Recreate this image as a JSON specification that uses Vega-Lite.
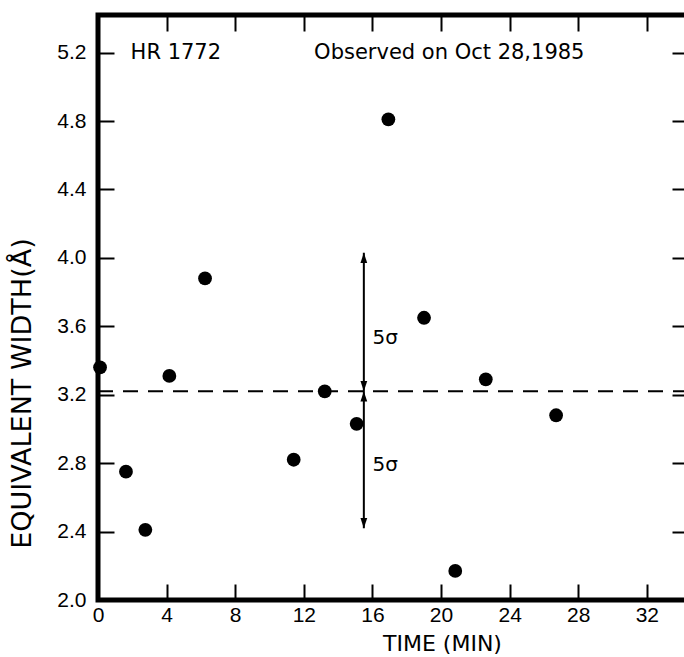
{
  "$schema": "https://vega.github.io/schema/vega-lite/v6.json",
  "width": 590,
  "height": 585,
  "autosize": "none",
  "padding": {"left": 98, "top": 15, "right": 0, "bottom": 57},
  "background": "white",
  "config": {
    "view": {"stroke": "black", "strokeWidth": 5},
    "axis": {
      "grid": false,
      "domain": false,
      "labelFlush": false,
      "tickColor": "black",
      "tickWidth": 2,
      "tickSize": -16,
      "labelColor": "black",
      "labelFont": "Liberation Sans",
      "labelFontSize": 21,
      "titleColor": "black",
      "titleFont": "DejaVu Sans",
      "titleFontSize": 22,
      "titleFontWeight": "normal"
    }
  },
  "datasets": {
    "obs": [
      {"t": 0.12, "v": 3.36},
      {"t": 1.63, "v": 2.75},
      {"t": 2.76, "v": 2.41},
      {"t": 4.16, "v": 3.31},
      {"t": 6.24, "v": 3.88},
      {"t": 11.41, "v": 2.82},
      {"t": 13.22, "v": 3.22},
      {"t": 15.08, "v": 3.03},
      {"t": 16.93, "v": 4.81},
      {"t": 19.01, "v": 3.65},
      {"t": 20.83, "v": 2.17},
      {"t": 22.61, "v": 3.29},
      {"t": 26.71, "v": 3.08}
    ],
    "mean": [{"v": 3.22}],
    "sigma": [{"t": 15.5, "lo": 2.42, "hi": 4.03}],
    "heads": [
      {"t": 15.5, "v": 4.03, "dir": "up"},
      {"t": 15.5, "v": 3.22, "dir": "down"},
      {"t": 15.5, "v": 3.22, "dir": "up"},
      {"t": 15.5, "v": 2.42, "dir": "down"}
    ],
    "notes": [
      {"t": 1.9, "v": 5.2, "label": "HR 1772"},
      {"t": 12.6, "v": 5.2, "label": "Observed on Oct 28,1985"}
    ],
    "sig": [
      {"t": 16.0, "v": 3.53, "label": "5σ"},
      {"t": 16.0, "v": 2.79, "label": "5σ"}
    ]
  },
  "resolve": {"axis": {"x": "independent", "y": "independent"}},
  "layer": [
    {
      "data": {"name": "obs"},
      "mark": {"type": "circle", "size": 190, "color": "black", "opacity": 1},
      "encoding": {
        "x": {
          "field": "t", "type": "quantitative",
          "scale": {"domain": [0, 34.4], "nice": false, "zero": false},
          "axis": {
            "orient": "bottom",
            "values": [0, 4, 8, 12, 16, 20, 24, 28, 32],
            "labelPadding": 20,
            "title": "TIME (MIN)",
            "titleX": 344,
            "titleY": 43,
            "titleAlign": "center",
            "titleBaseline": "middle"
          }
        },
        "y": {
          "field": "v", "type": "quantitative",
          "scale": {"domain": [2.0, 5.42], "nice": false, "zero": false},
          "axis": {
            "orient": "left",
            "values": [2.0, 2.4, 2.8, 3.2, 3.6, 4.0, 4.4, 4.8, 5.2],
            "format": ".1f",
            "labelPadding": 28,
            "title": "EQUIVALENT WIDTH(Å)",
            "titleFontSize": 27,
            "titleX": -76,
            "titleY": 378,
            "titleAlign": "center",
            "titleBaseline": "middle"
          }
        }
      }
    },
    {
      "data": {"name": "mean"},
      "mark": {"type": "rule", "color": "black", "strokeWidth": 2, "strokeDash": [15, 10]},
      "encoding": {
        "y": {
          "field": "v", "type": "quantitative",
          "axis": {"orient": "right", "labels": false, "title": null, "values": [2.0, 2.4, 2.8, 3.2, 3.6, 4.0, 4.4, 4.8, 5.2]}
        }
      }
    },
    {
      "data": {"name": "mean"},
      "mark": {"type": "point", "opacity": 0},
      "encoding": {
        "x": {
          "datum": 0, "type": "quantitative",
          "axis": {"orient": "top", "labels": false, "title": null, "values": [0, 4, 8, 12, 16, 20, 24, 28, 32]}
        },
        "y": {"field": "v", "type": "quantitative", "axis": null}
      }
    },
    {
      "data": {"name": "sigma"},
      "mark": {"type": "rule", "color": "black", "strokeWidth": 2},
      "encoding": {
        "x": {"field": "t", "type": "quantitative", "axis": null},
        "y": {"field": "lo", "type": "quantitative", "axis": null},
        "y2": {"field": "hi"}
      }
    },
    {
      "data": {"name": "heads"},
      "mark": {"type": "point", "filled": true, "opacity": 1, "color": "black", "size": 420},
      "encoding": {
        "x": {"field": "t", "type": "quantitative", "axis": null},
        "y": {"field": "v", "type": "quantitative", "axis": null},
        "shape": {
          "field": "dir", "type": "nominal", "legend": null,
          "scale": {"domain": ["up", "down"], "range": ["M0,0L-0.33,1L0.33,1Z", "M0,0L-0.33,-1L0.33,-1Z"]}
        }
      }
    },
    {
      "data": {"name": "notes"},
      "mark": {"type": "text", "align": "left", "baseline": "middle", "font": "DejaVu Sans", "fontSize": 21, "color": "black"},
      "encoding": {
        "x": {"field": "t", "type": "quantitative", "axis": null},
        "y": {"field": "v", "type": "quantitative", "axis": null},
        "text": {"field": "label"}
      }
    },
    {
      "data": {"name": "sig"},
      "mark": {"type": "text", "align": "left", "baseline": "middle", "font": "DejaVu Sans", "fontSize": 20, "color": "black"},
      "encoding": {
        "x": {"field": "t", "type": "quantitative", "axis": null},
        "y": {"field": "v", "type": "quantitative", "axis": null},
        "text": {"field": "label"}
      }
    }
  ]
}
